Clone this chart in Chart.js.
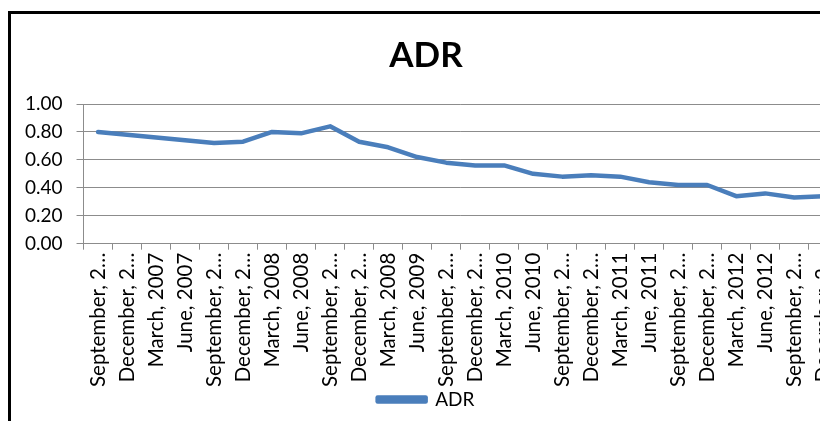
<!DOCTYPE html>
<html>
<head>
<meta charset="utf-8">
<script src="https://cdn.jsdelivr.net/npm/chart.js@4/dist/chart.umd.min.js"></script>
<style>
  html, body { margin: 0; padding: 0; background: #fff; overflow: hidden; width: 820px; height: 421px; }
  #frame { position: absolute; left: 8px; top: 11px; width: 840px; height: 430px;
           border-left: 3px solid #000; border-top: 3px solid #000; background: #fff; }
  #c { display: block; }
</style>
</head>
<body>
<div id="frame"><canvas id="c" width="840" height="405"></canvas></div>
<script>
const categories = [
  "September, 2006", "December, 2006", "March, 2007", "June, 2007",
  "September, 2007", "December, 2007", "March, 2008", "June, 2008",
  "September, 2008", "December, 2008", "March, 2008", "June, 2009",
  "September, 2009", "December, 2009", "March, 2010", "June, 2010",
  "September, 2010", "December, 2010", "March, 2011", "June, 2011",
  "September, 2011", "December, 2011", "March, 2012", "June, 2012",
  "September, 2012", "December, 2012"
];
const adrValues = [
  0.80, 0.78, 0.76, 0.74, 0.72, 0.73, 0.80, 0.79, 0.84, 0.73,
  0.69, 0.62, 0.58, 0.56, 0.56, 0.50, 0.48, 0.49, 0.48, 0.44,
  0.42, 0.42, 0.34, 0.36, 0.33, 0.34
];
const yTickMin = 0;
const yTickMax = 1;
const yTickStep = 0.2;

const FONT = "Lato, 'Open Sans', sans-serif";
const lineColor = "#4A7EBB";
const gridColor = "#8C8C8C";

function shortLabel(s) {
  if (s.length > 11) {
    return s.slice(0, s.indexOf(",") + 3) + "\u2026";
  }
  return s;
}

new Chart(document.getElementById("c"), {
  type: "line",
  data: {
    labels: categories,
    datasets: [{
      label: "ADR",
      data: adrValues,
      borderColor: lineColor,
      backgroundColor: lineColor,
      borderWidth: 4.5,
      pointRadius: 0,
      pointHoverRadius: 0,
      tension: 0,
      borderJoinStyle: "round",
      borderCapStyle: "round",
      fill: false
    }]
  },
  options: {
    responsive: false,
    animation: false,
    devicePixelRatio: 1,
    layout: { padding: { left: 0, right: 10, top: 0, bottom: 0 } },
    plugins: {
      tooltip: { enabled: false },
      title: {
        display: true,
        text: "ADR",
        color: "#000",
        font: { family: FONT, size: 35, weight: "bold" },
        padding: { top: 21, bottom: 27 }
      },
      legend: {
        display: true,
        position: "bottom",
        labels: {
          color: "#000",
          font: { family: FONT, size: 19, lineHeight: 1.0 },
          boxWidth: 48,
          boxHeight: 4,
          padding: 0
        }
      }
    },
    scales: {
      x: {
        type: "category",
        offset: true,
        grid: {
          display: true,
          offset: true,
          drawOnChartArea: false,
          drawTicks: true,
          tickLength: 6,
          color: gridColor
        },
        border: { display: true, color: gridColor, width: 1 },
        ticks: {
          autoSkip: false,
          minRotation: 90,
          maxRotation: 90,
          padding: 3,
          color: "#000",
          font: { family: FONT, size: 20.5 },
          callback: function (v) { return shortLabel(this.getLabelForValue(v)); }
        }
      },
      y: {
        min: yTickMin,
        max: yTickMax,
        grid: {
          color: gridColor,
          lineWidth: 1,
          drawTicks: true,
          tickLength: 7
        },
        border: { display: true, color: gridColor, width: 1 },
        ticks: {
          stepSize: yTickStep,
          padding: 14,
          color: "#000",
          font: { family: FONT, size: 19 },
          callback: function (v) { return Number(v).toFixed(2); }
        }
      }
    }
  }
});
</script>
</body>
</html>
